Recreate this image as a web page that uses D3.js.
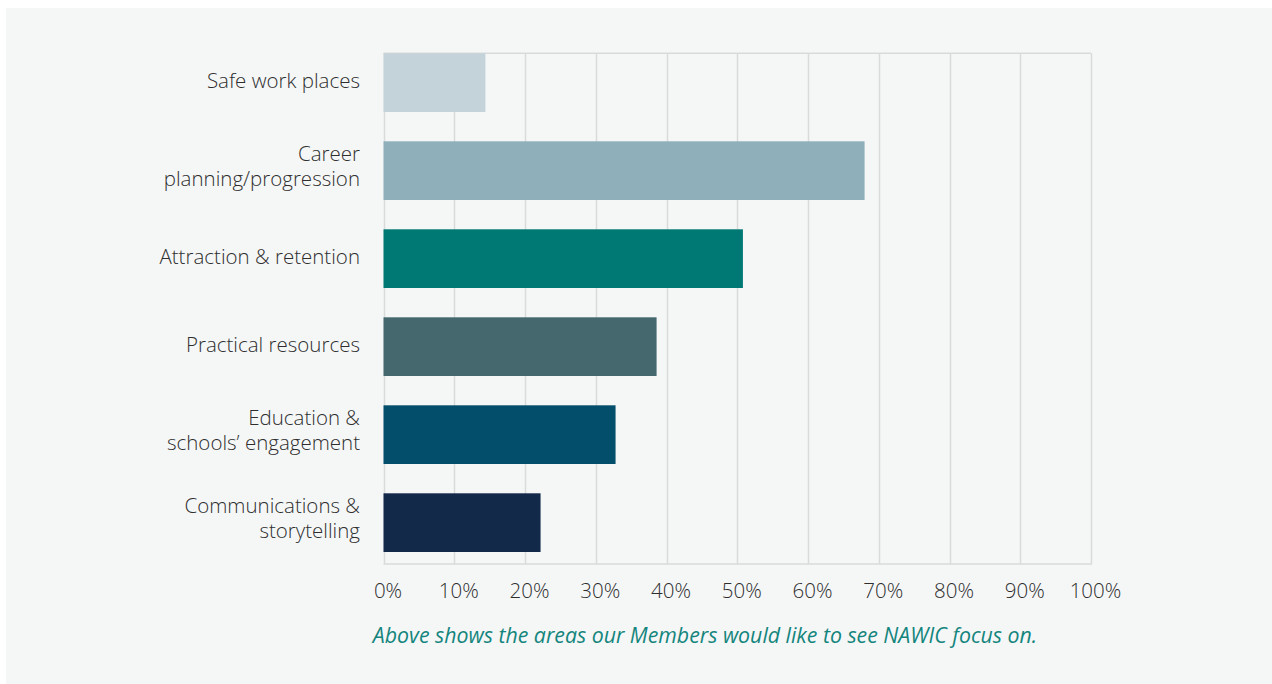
<!DOCTYPE html>
<html>
<head>
<meta charset="utf-8">
<script src="https://cdn.jsdelivr.net/npm/d3@7"></script>
<style>
  html, body { margin: 0; padding: 0; background: #ffffff; }
  svg { display: block; }
  text { font-family: "Open Sans", "Noto Sans", sans-serif; }
</style>
</head>
<body>
<svg id="chart" width="1272" height="684"></svg>
<script>
// Focus areas members would like NAWIC to work on (share of respondents, %)
const categories = [
  "Safe work places",
  "Career\nplanning/progression",
  "Attraction & retention",
  "Practical resources",
  "Education &\nschools\u2019 engagement",
  "Communications &\nstorytelling"
];
const shares = [14.4, 68.0, 50.8, 38.6, 32.8, 22.2];
const barColors = ["#c3d3d9", "#8fb0bb", "#007874", "#45686f", "#034e6b", "#12294a"];
const tickValues = [0, 10, 20, 30, 40, 50, 60, 70, 80, 90, 100];
const caption = "Above shows the areas our Members would like to see NAWIC focus on.";

const svg = d3.select("#chart");

// panel background
svg.append("rect")
  .attr("x", 6).attr("y", 8)
  .attr("width", 1266).attr("height", 676)
  .attr("fill", "#f5f7f7");

const plot = { left: 383.5, right: 1091, top: 53.3, bottom: 564 };

const x = d3.scaleLinear().domain([0, 100]).range([plot.left, plot.right]);
const y = d3.scaleBand()
  .domain(categories)
  .range([plot.top, 552])
  .paddingInner(0.333)
  .paddingOuter(0);

// vertical gridlines
svg.append("g")
  .selectAll("line")
  .data(tickValues)
  .join("line")
  .attr("x1", d => Math.round(x(d)) + 0.5)
  .attr("x2", d => Math.round(x(d)) + 0.5)
  .attr("y1", plot.top)
  .attr("y2", plot.bottom)
  .attr("stroke", "#d9dbdb")
  .attr("stroke-width", 1.5);

// frame: top and bottom edges
svg.append("line")
  .attr("x1", x(0)).attr("x2", x(100))
  .attr("y1", plot.top).attr("y2", plot.top)
  .attr("stroke", "#d9dbdb").attr("stroke-width", 1.5);
svg.append("line")
  .attr("x1", x(0)).attr("x2", x(100) + 1)
  .attr("y1", plot.bottom).attr("y2", plot.bottom)
  .attr("stroke", "#d9dbdb").attr("stroke-width", 1.5);

// bars
svg.append("g")
  .selectAll("rect")
  .data(categories)
  .join("rect")
  .attr("x", x(0))
  .attr("y", d => y(d))
  .attr("width", (d, i) => x(shares[i]) - x(0))
  .attr("height", y.bandwidth())
  .attr("fill", (d, i) => barColors[i]);

// category labels (right aligned, wrapped on \n)
const labels = svg.append("g")
  .selectAll("text")
  .data(categories)
  .join("text")
  .attr("text-anchor", "end")
  .attr("font-size", 20.5)
  .attr("font-weight", 300)
  .attr("fill", "#2e2e2e");

labels.each(function(d) {
  const lines = d.split("\n");
  const cy = y(d) + y.bandwidth() / 2;
  const t = d3.select(this);
  lines.forEach((ln, i) => {
    t.append("tspan")
      .attr("x", 360)
      .attr("y", cy + 5.5 - (lines.length - 1) * 15 + i * 25)
      .text(ln);
  });
});

// x axis tick labels
const xAxis = d3.axisBottom(x)
  .tickValues(tickValues)
  .tickFormat(d => d + "%")
  .tickSize(0)
  .tickPadding(0);

const axisG = svg.append("g")
  .attr("transform", `translate(0, ${plot.bottom})`)
  .call(xAxis);
axisG.select(".domain").remove();
axisG.selectAll("text")
  .attr("dy", null)
  .attr("y", 34)
  .attr("dx", 4)
  .attr("font-size", 20.5)
  .attr("font-weight", 300)
  .attr("font-family", "\"Open Sans\", sans-serif")
  .attr("fill", "#2e2e2e");

// caption
svg.append("text")
  .attr("x", 705)
  .attr("y", 643)
  .attr("text-anchor", "middle")
  .attr("font-size", 21.3)
  .attr("font-style", "italic")
  .attr("fill", "#14857d")
  .text(caption);
</script>
</body>
</html>
